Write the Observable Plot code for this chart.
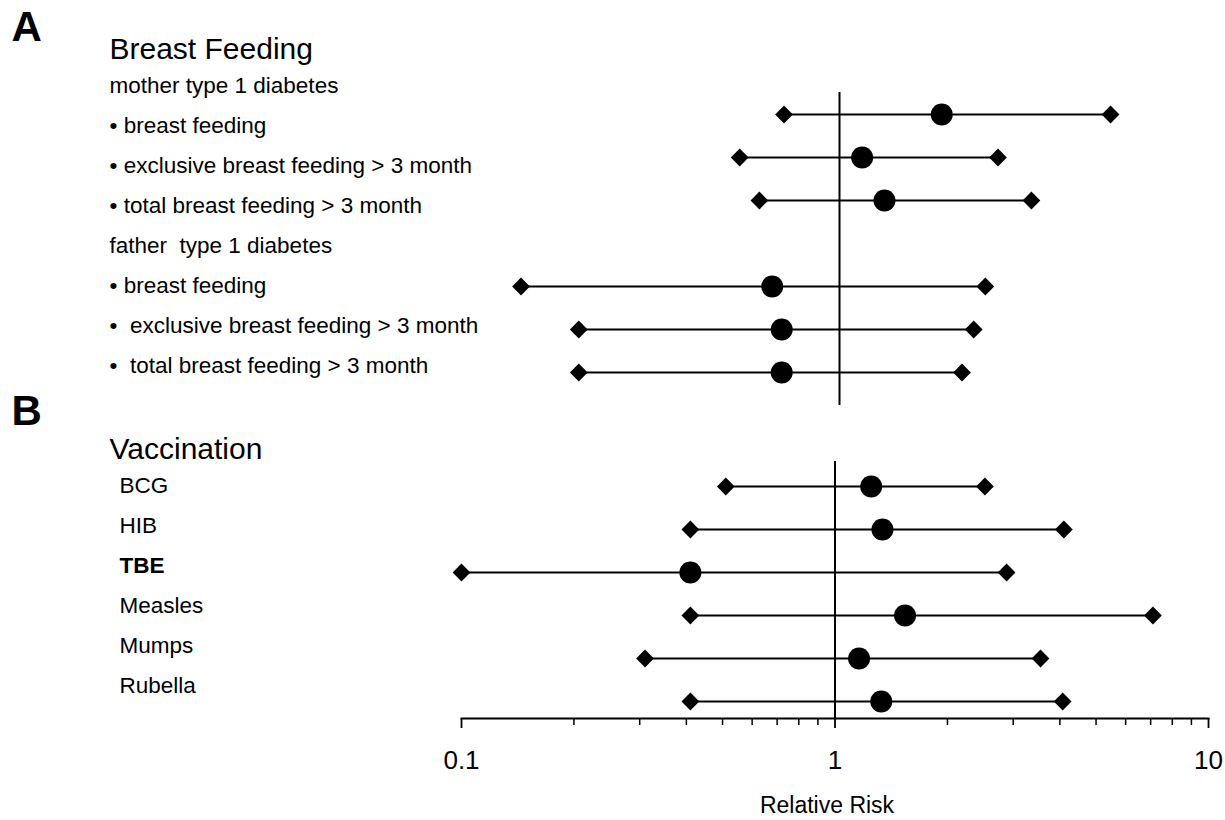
<!DOCTYPE html>
<html>
<head>
<meta charset="utf-8">
<script src="https://cdn.jsdelivr.net/npm/d3@7"></script>
<script src="https://cdn.jsdelivr.net/npm/@observablehq/plot@0.6"></script>
<style>
  body { margin: 0; background: #fff; }
  #chart { position: relative; width: 1225px; height: 820px; background: #fff; overflow: hidden; }
  #chart > div { position: absolute; left: 0; top: 0; }
</style>
</head>
<body>
<div id="chart"></div>
<script>
// ---------- Panel A: Breast Feeding ----------
const panelALetter = "A";
const panelATitle = "Breast Feeding";
const feedingGroups = ["mother type 1 diabetes", "father  type 1 diabetes"];
const feedingGroupOf = [0, 0, 0, 1, 1, 1];
const feedingLabels = [
  "• breast feeding",
  "• exclusive breast feeding > 3 month",
  "• total breast feeding > 3 month",
  "• breast feeding",
  "•  exclusive breast feeding > 3 month",
  "•  total breast feeding > 3 month"
];
const feedingLow  = [0.71, 0.54, 0.61, 0.14, 0.20, 0.20];
const feedingRR   = [1.88, 1.15, 1.32, 0.66, 0.70, 0.70];
const feedingHigh = [5.33, 2.66, 3.27, 2.46, 2.29, 2.13];

// ---------- Panel B: Vaccination ----------
const panelBLetter = "B";
const panelBTitle = "Vaccination";
const vaccines    = ["BCG", "HIB", "TBE", "Measles", "Mumps", "Rubella"];
const vaccineLow  = [0.51, 0.41, 0.10, 0.41, 0.31, 0.41];
const vaccineRR   = [1.25, 1.34, 0.41, 1.54, 1.16, 1.33];
const vaccineHigh = [2.52, 4.10, 2.88, 7.10, 3.55, 4.07];

// ---------- Axis ----------
const xDomain = [0.1, 10];
const xTicksMajor = [0.1, 1, 10];
const xTicksMinor = [0.2, 0.3, 0.4, 0.5, 0.6, 0.7, 0.8, 0.9, 2, 3, 4, 5, 6, 7, 8, 9];
const xAxisLabel = "Relative Risk";

// ---------- build tables ----------
const rowsA = feedingLabels.map((label, i) => ({
  key: "a" + i, group: feedingGroupOf[i], label,
  lo: feedingLow[i], rr: feedingRR[i], hi: feedingHigh[i]
}));
const rowsB = vaccines.map((label, i) => ({
  key: "b" + i, label, lo: vaccineLow[i], rr: vaccineRR[i], hi: vaccineHigh[i]
}));

// data-row domain for panel A (a header slot before every group but the first)
const domainA = [];
feedingGroups.forEach((g, gi) => {
  if (gi > 0) domainA.push("hdr" + gi);
  rowsA.filter(r => r.group === gi).forEach(r => domainA.push(r.key));
});
const domainB = rowsB.map(r => r.key);

// label table (left column)
const labelRows = [{key: "titleA", text: panelATitle, kind: "title"}];
feedingGroups.forEach((g, gi) => {
  labelRows.push({key: "hdr" + gi, text: g, kind: "group"});
  rowsA.filter(r => r.group === gi).forEach(r => labelRows.push({key: "l" + r.key, text: r.label, kind: "item"}));
});
labelRows.push({key: "gap", text: "", kind: "gap"});
labelRows.push({key: "titleB", text: panelBTitle, kind: "title"});
rowsB.forEach(r => labelRows.push({key: "l" + r.key, text: r.label, kind: "vaccine"}));

const boldVaccine = "TBE";
const FONT = "'Liberation Sans', Arial, Helvetica, sans-serif";
const baseStyle = {fontFamily: FONT, color: "black", background: "transparent"};

const chart = document.getElementById("chart");
function add(svg) { const d = document.createElement("div"); d.appendChild(svg); chart.appendChild(d); }

// ---------- labels layer ----------
add(Plot.plot({
  width: 1225, height: 820,
  marginLeft: 109, marginRight: 0, marginTop: 42, marginBottom: 132,
  style: baseStyle,
  y: {type: "point", domain: labelRows.map(d => d.key), padding: 0, axis: null},
  marks: [
    Plot.text(labelRows.filter(d => d.kind === "title"), {
      y: "key", text: "text", frameAnchor: "left", textAnchor: "start",
      fontSize: 30, dy: 4, fill: "black"
    }),
    Plot.text(labelRows.filter(d => d.kind === "group" || d.kind === "item"), {
      y: "key", text: "text", frameAnchor: "left", textAnchor: "start",
      fontSize: 22.5, fill: "black"
    }),
    Plot.text(labelRows.filter(d => d.kind === "vaccine" && d.text !== boldVaccine), {
      y: "key", text: "text", frameAnchor: "left", textAnchor: "start",
      fontSize: 22.5, dx: 10, fill: "black"
    }),
    Plot.text(labelRows.filter(d => d.kind === "vaccine" && d.text === boldVaccine), {
      y: "key", text: "text", frameAnchor: "left", textAnchor: "start",
      fontSize: 22.5, dx: 10, fontWeight: "bold", fill: "black"
    }),
    Plot.text([{key: "titleA", text: panelALetter}], {
      y: "key", text: "text", frameAnchor: "left", textAnchor: "start",
      fontSize: 42, fontWeight: "bold", dx: -98, dy: -18, fill: "black"
    }),
    Plot.text([{key: "titleB", text: panelBLetter}], {
      y: "key", text: "text", frameAnchor: "left", textAnchor: "start",
      fontSize: 42, fontWeight: "bold", dx: -98, dy: -34, fill: "black"
    })
  ]
}));

// ---------- panel A data ----------
add(Plot.plot({
  width: 1225, height: 820,
  marginLeft: 466, marginRight: 13, marginTop: 92, marginBottom: 415,
  style: baseStyle,
  x: {type: "log", domain: xDomain, axis: null, label: null},
  y: {type: "point", domain: domainA, padding: 0, insetTop: 22, insetBottom: 33, axis: null},
  marks: [
    Plot.ruleX([1], {stroke: "black", strokeWidth: 2}),
    Plot.ruleY(rowsA, {y: "key", x1: "lo", x2: "hi", stroke: "black", strokeWidth: 1.8}),
    Plot.dot(rowsA, {y: "key", x: "lo", symbol: "diamond2", r: 8, fill: "black", stroke: null}),
    Plot.dot(rowsA, {y: "key", x: "hi", symbol: "diamond2", r: 8, fill: "black", stroke: null}),
    Plot.dot(rowsA, {y: "key", x: "rr", r: 11, fill: "black", stroke: null})
  ]
}));

// ---------- panel B data + axis ----------
add(Plot.plot({
  width: 1225, height: 820,
  marginLeft: 461, marginRight: 17, marginTop: 461, marginBottom: 102,
  style: baseStyle,
  x: {type: "log", domain: xDomain, label: null},
  y: {type: "point", domain: domainB, padding: 0, insetTop: 25, insetBottom: 17, axis: null},
  marks: [
    Plot.frame({anchor: "bottom", stroke: "black", strokeWidth: 2}),
    Plot.axisX(xTicksMinor, {tickSize: 7, tickFormat: () => "", label: null, stroke: "black", strokeWidth: 1.5}),
    Plot.axisX(xTicksMajor, {tickSize: 10, tickPadding: 22, fontSize: 26, tickFormat: d => String(d),
                             label: null, stroke: "black", fill: "black", strokeWidth: 1.8}),
    Plot.text([xAxisLabel], {frameAnchor: "bottom", lineAnchor: "middle", dy: 87, dx: -8, fontSize: 23, fill: "black"}),
    Plot.ruleX([1], {stroke: "black", strokeWidth: 2}),
    Plot.ruleY(rowsB, {y: "key", x1: "lo", x2: "hi", stroke: "black", strokeWidth: 1.8}),
    Plot.dot(rowsB, {y: "key", x: "lo", symbol: "diamond2", r: 8, fill: "black", stroke: null}),
    Plot.dot(rowsB, {y: "key", x: "hi", symbol: "diamond2", r: 8, fill: "black", stroke: null}),
    Plot.dot(rowsB, {y: "key", x: "rr", r: 11, fill: "black", stroke: null})
  ]
}));
</script>
</body>
</html>
